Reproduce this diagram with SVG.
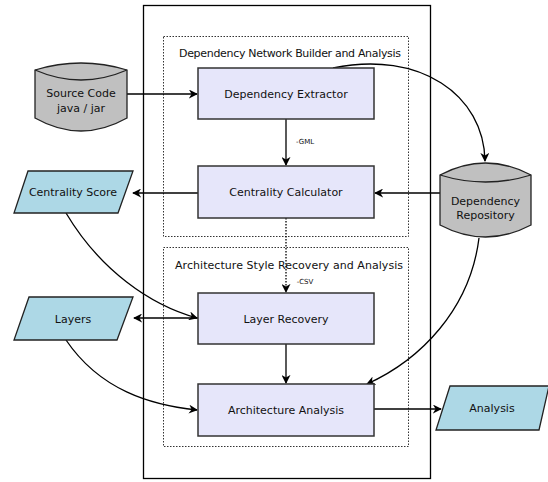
<svg xmlns="http://www.w3.org/2000/svg" width="548" height="482" viewBox="0 0 548 482">
<defs>
<marker id="ah" viewBox="0 0 10 10" refX="9" refY="5" markerWidth="9" markerHeight="9" markerUnits="userSpaceOnUse" orient="auto">
<path d="M0,0 L10,5 L0,10 L3,5 Z" fill="#000"/>
</marker>
<style>
text{font-family:"DejaVu Sans",Verdana,sans-serif;font-size:11px;fill:#111;text-anchor:middle;dominant-baseline:central}
.box{fill:#E6E6FA;stroke:#333;stroke-width:1.5}
.cyl{fill:#C0C0C0;stroke:#222;stroke-width:1.3}
.para{fill:#ADD8E6;stroke:#222;stroke-width:1.3}
.grp{fill:none;stroke:#333;stroke-width:1;stroke-dasharray:1.5,1.5}
.c{fill:none;stroke:#000;stroke-width:1.3}
.small{font-size:7px}
</style>
</defs>
<rect x="0" y="0" width="548" height="482" fill="#fff"/>
<rect id="outer" x="143.5" y="5.5" width="287" height="473" fill="none" stroke="#000" stroke-width="1.3"/>
<g id="group-dependency">
<rect class="grp" x="163.5" y="36.5" width="245" height="200"/>
<text x="290" y="53" textLength="222" lengthAdjust="spacing">Dependency Network Builder and Analysis</text>
</g>
<g id="group-architecture">
<rect class="grp" x="163.5" y="247.5" width="245" height="199"/>
<text x="289" y="265" textLength="228" lengthAdjust="spacing">Architecture Style Recovery and Analysis</text>
</g>
<g id="connectors">
<path class="c" d="M127,94 L197,94" marker-end="url(#ah)"/>
<path class="c" d="M286,119 L286,165" marker-end="url(#ah)"/>
<text class="small" x="305" y="142">-GML</text>
<path class="c" d="M333,68 C420,50 484,95 485,161" marker-end="url(#ah)"/>
<path class="c" d="M440,193 L375,193" marker-end="url(#ah)"/>
<path class="c" d="M198,193 L133,193" marker-end="url(#ah)"/>
<path class="c" d="M286,218 L286,292" stroke-dasharray="1.5,1.5" marker-end="url(#ah)"/>
<text class="small" x="305" y="282">-CSV</text>
<path class="c" d="M66,213 C100,270 150,305 197,318" marker-end="url(#ah)"/>
<path class="c" d="M198,318 L134,318" marker-end="url(#ah)"/>
<path class="c" d="M66,340 C100,390 150,405 197,410" marker-end="url(#ah)"/>
<path class="c" d="M286,344 L286,383" marker-end="url(#ah)"/>
<path class="c" d="M479,238 C470,310 420,360 367,384" marker-end="url(#ah)"/>
<path class="c" d="M374,409 L441,409" marker-end="url(#ah)"/>
</g>
<g id="source-code">
<path class="cyl" d="M35,70 Q81,56 127,70 L127,118 Q81,144 35,118 Z"/>
<path class="cyl" d="M35,70 Q81,90 127,70" fill="none"/>
<text x="81" y="93">Source Code</text>
<text x="81" y="108">java / jar</text>
</g>
<g id="dependency-repository">
<path class="cyl" d="M440,175 Q485.5,151 531,175 L531,225 Q485.5,249 440,225 Z"/>
<path class="cyl" d="M440,175 Q485.5,189 531,175" fill="none"/>
<text x="485.5" y="201">Dependency</text>
<text x="485.5" y="215">Repository</text>
</g>
<g id="dependency-extractor">
<rect class="box" x="198" y="68" width="176" height="51"/>
<text x="286" y="94">Dependency Extractor</text>
</g>
<g id="centrality-calculator">
<rect class="box" x="198" y="166" width="176" height="52"/>
<text x="286" y="192">Centrality Calculator</text>
</g>
<g id="layer-recovery">
<rect class="box" x="198" y="293" width="176" height="51"/>
<text x="286" y="319">Layer Recovery</text>
</g>
<g id="architecture-analysis">
<rect class="box" x="198" y="384" width="176" height="52"/>
<text x="286" y="410">Architecture Analysis</text>
</g>
<g id="centrality-score">
<path class="para" d="M28,171 L133,171 L118,213 L14,213 Z"/>
<text x="73" y="192">Centrality Score</text>
</g>
<g id="layers">
<path class="para" d="M29,297 L133,297 L117,340 L14,340 Z"/>
<text x="73" y="319">Layers</text>
</g>
<g id="analysis">
<path class="para" d="M450,386 L549,386 L539,430 L436,430 Z"/>
<text x="492" y="408">Analysis</text>
</g>
</svg>
